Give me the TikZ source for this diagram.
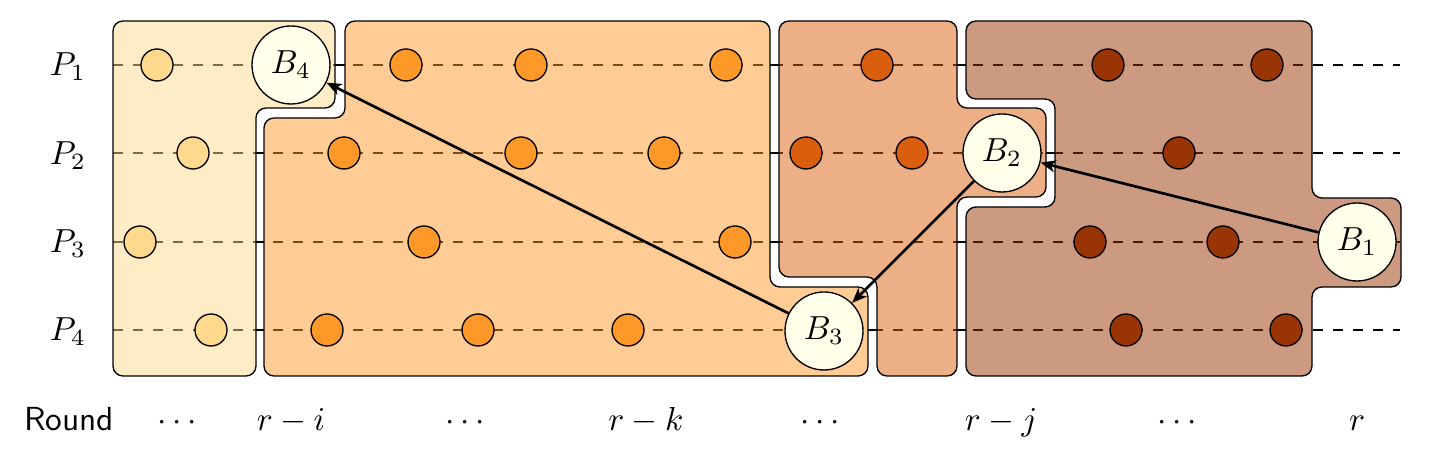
\documentclass[tikz,border=0pt]{standalone}
\usetikzlibrary{arrows.meta}
\definecolor{cA}{HTML}{FED98E}
\definecolor{cB}{HTML}{FE9929}
\definecolor{cC}{HTML}{D95F0E}
\definecolor{cD}{HTML}{993404}
\definecolor{cE}{HTML}{FFFFD4}
\begin{document}
\begin{tikzpicture}[x=0.3pt,y=-0.3pt,
  dotnode/.style={circle,draw=black,line width=0.4pt,minimum size=9.6pt,inner sep=0pt},
  bnode/.style={circle,draw=black,line width=0.4pt,fill=cE!50,minimum size=23.4pt,inner sep=0pt},
  region/.style={draw=black,line width=0.4pt,rounded corners=3pt,fill opacity=0.5,draw opacity=1},
  rowline/.style={dashed,line width=0.4pt},
  gapline/.style={line width=0.4pt},
  link/.style={-{Stealth[length=4.5pt,width=3.6pt,inset=1.2pt]},thick},
  lbl/.style={anchor=base,inner sep=0pt}
]
\useasboundingbox (0,0) rectangle (1448,462);
% row lines
\foreach \r/\y in {1/65,2/153,3/242,4/330}{
  \coordinate (ls\r) at (113,\y);
  \coordinate (le\r) at (1400,\y);
  \draw[rowline] (ls\r) -- (le\r);
}
% solid pieces in the white gaps
\foreach \a/\b/\y in {335/345/65,770/779/65,957/966/65,
                       256/264/153,770/779/153,1046/1055/153,
                       256/264/242,770/779/242,957/966/242,
                       256/264/330,868/877/330,957/966/330}{
  \draw[gapline] (\a,\y) -- (\b,\y);
}
% regions
\draw[region,fill=cA] (113,21) -- (335,21) -- (335,108) -- (256,108) -- (256,376) -- (113,376) -- cycle;
\draw[region,fill=cB] (345,21) -- (770,21) -- (770,287) -- (868,287) -- (868,376) -- (264,376) -- (264,118) -- (345,118) -- cycle;
\draw[region,fill=cC] (779,21) -- (957,21) -- (957,108) -- (1046,108) -- (1046,197) -- (957,197) -- (957,376) -- (877,376) -- (877,277) -- (779,277) -- cycle;
\draw[region,fill=cD] (966,21) -- (1312,21) -- (1312,198) -- (1401,198) -- (1401,287) -- (1312,287) -- (1312,376) -- (966,376) -- (966,207) -- (1055,207) -- (1055,99) -- (966,99) -- cycle;
% yellow dots
\node[dotnode,fill=cA] (a1) at (157,65) {};
\node[dotnode,fill=cA] (a2) at (193,153) {};
\node[dotnode,fill=cA] (a3) at (140,242) {};
\node[dotnode,fill=cA] (a4) at (211,330) {};
% orange dots
\node[dotnode,fill=cB] (b11) at (406,65) {};
\node[dotnode,fill=cB] (b12) at (531,65) {};
\node[dotnode,fill=cB] (b13) at (726,65) {};
\node[dotnode,fill=cB] (b21) at (344,153) {};
\node[dotnode,fill=cB] (b22) at (521,153) {};
\node[dotnode,fill=cB] (b23) at (664,153) {};
\node[dotnode,fill=cB] (b31) at (424,242) {};
\node[dotnode,fill=cB] (b32) at (735,242) {};
\node[dotnode,fill=cB] (b41) at (327,330) {};
\node[dotnode,fill=cB] (b42) at (478,330) {};
\node[dotnode,fill=cB] (b43) at (628,330) {};
% dark orange dots
\node[dotnode,fill=cC] (c11) at (877,65) {};
\node[dotnode,fill=cC] (c21) at (806,153) {};
\node[dotnode,fill=cC] (c22) at (912,153) {};
% brown dots
\node[dotnode,fill=cD] (d11) at (1108,65) {};
\node[dotnode,fill=cD] (d12) at (1267,65) {};
\node[dotnode,fill=cD] (d21) at (1179,153) {};
\node[dotnode,fill=cD] (d31) at (1090,242) {};
\node[dotnode,fill=cD] (d32) at (1223,242) {};
\node[dotnode,fill=cD] (d41) at (1126,330) {};
\node[dotnode,fill=cD] (d42) at (1286,330) {};
% B nodes
\node[bnode] (B4) at (291,65) {$B_4$};
\node[bnode] (B3) at (824,331) {$B_3$};
\node[bnode] (B2) at (1002,153) {$B_2$};
\node[bnode] (B1) at (1357,242) {$B_1$};
% arrows
\draw[link] (B1) -- (B2);
\draw[link] (B2) -- (B3);
\draw[link] (B3) -- (B4);
% process labels
\node[lbl] (p1) at (68,76) {$P_1$};
\node[lbl] (p2) at (68,164.5) {$P_2$};
\node[lbl] (p3) at (68,253) {$P_3$};
\node[lbl] (p4) at (68,341) {$P_4$};
% round labels
\node[lbl] (rd) at (69,431) {\textsf{Round}};
\node[lbl] (t1) at (177,431) {$\cdots$};
\node[lbl] (t2) at (291,431) {$r-i$};
\node[lbl] (t3) at (465,431) {$\cdots$};
\node[lbl] (t4) at (646,431) {$r-k$};
\node[lbl] (t5) at (820,431) {$\cdots$};
\node[lbl] (t6) at (1001,431) {$r-j$};
\node[lbl] (t7) at (1177,431) {$\cdots$};
\node[lbl] (t8) at (1357,431) {$r$};
\end{tikzpicture}
\end{document}
